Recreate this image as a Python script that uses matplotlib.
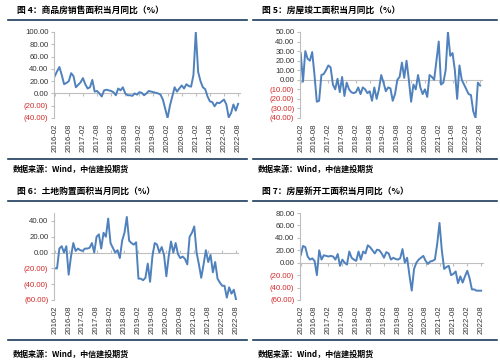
import matplotlib
matplotlib.use("Agg")
import matplotlib.pyplot as plt
import pandas as pd

# months 2016-02 .. 2022-08
months = [p.strftime("%Y-%m") for p in pd.period_range("2016-02", "2022-08", freq="M")]

titles = ["图 4：商品房销售面积当月同比（%）",
          "图 5：房屋竣工面积当月同比（%）",
          "图 6：土地购置面积当月同比（%）",
          "图 7：房屋新开工面积当月同比（%）"]
source = "数据来源：Wind，中信建投期货"

sales = [28, 36, 43, 30, 15, 17, 20, 33, 28, 10, 14, 18, 25, 15, 8, 10,
         22, 3, 4, 0, -5, 5, 6, 5, 4, 2, -3, 8, 5, 10, 0, -3,
         -3, -4, 0, -2, 2, 1, -3, 0, 4, 3, 2, 1, 0, -2, -10, -25,
         -40, -20, -5, 10, 3, 8, 13, 8, 15, 12, 11, 30, 100, 35, 20, 10,
         7, -5, -13, -14, -21, -15, -16, -13, -10, -18, -39, -32, -18, -28, -17]

completed = [28, -2, 30, 22, 20, 29, 5, -23, -22, 5, 6, 10, 15, 13, -5, -10,
             1, -13, 3, -17, -3, -10, -13, -14, -13, -8, -15, -8, -10, -14, -12, -22,
             -8, -20, -10, 5, -3, -12, -8, -9, -22, -15, 0, 3, 18, 2, 20, 0,
             -23, -5, -10, 5, -8, -15, -10, -18, 5, 3, 0, 20, 40, -5, -3, 10,
             50, 25, 28, 10, -20, 15, 0, -5, -10, -15, -16, -33, -40, -3, -6]

land = [-20, -20, 5, 8, 0, 8, -28, -5, 12, 2, 5, 3, 2, 5, 5, 6,
        12, 0, 20, 23, 5, 25, 20, 43, 12, 6, 0, 3, -7, 15, 25, 45,
        15, 12, 10, 13, -33, -33, -35, -32, -14, -37, -5, 12, 10, 0, 7, -3,
        -30, -5, 14, 0, 12, -2, -7, -5, -8, -15, 20, 25, 33, 0, -15, -32,
        -15, 3, -12, -3, -25, -12, -33, -38, -42, -42, -57, -44, -52, -47, -60]

new_starts = [12, 27, 25, 10, 5, 7, 3, -20, 20, 5, 12, 11, 10, 11, 10, 5,
              14, -5, 5, 0, -3, 18, 8, 5, 3, 18, 5, 18, 15, 28, 25, 20,
              15, 21, 20, 15, 8, 17, 15, 5, 8, 6, 5, 7, 22, 0, 8, -20,
              -45, -10, 0, 5, 8, 11, 3, -2, 2, 3, 5, 30, 64, 20, -10, -7,
              -5, -20, -18, -14, -33, -22, -32, -22, -13, -25, -43, -43, -45, -45, -45]

series = [sales, completed, land, new_starts]
ylims = [(-40, 100), (-40, 50), (-60, 50), (-60, 80)]
ysteps = [20, 10, 20, 20]

W, H = 500, 362
fig = plt.figure(figsize=(W / 100, H / 100), dpi=100)
fig.patch.set_facecolor("white")

CJK = ["Noto Sans CJK SC", "DejaVu Sans"]
NAVY = "#1d3c5e"
LINE = "#4f81bd"
GRAY = "#bfbfbf"
RED = "#d42a2a"

# panel boxes in pixels: (axes x0, x1, y_top, y_bottom, block left, block right, block top)
boxes = [(54, 240, 32, 118, 8, 247, 0),
         (300, 482, 32, 118, 253, 497, 0),
         (54, 238, 213, 300, 8, 247, 181),
         (300, 483, 213, 300, 253, 497, 181)]


def fmt(v):
    if v < 0:
        return "({:.2f})".format(-v)
    return "{:.2f}".format(v)


for i, (x0, x1, yt, yb, bl, br, bt) in enumerate(boxes):
    ax = fig.add_axes([x0 / W, 1 - yb / H, (x1 - x0) / W, (yb - yt) / H])
    ax.plot(range(len(months)), series[i], color=LINE, lw=1.4)
    lo, hi = ylims[i]
    ax.set_ylim(lo, hi)
    ax.set_xlim(-0.3, len(months) - 0.2)

    yt_vals = list(range(lo, hi + 1, ysteps[i]))
    if i == 2:
        yt_vals = list(range(-60, 41, 20))
    ax.set_yticks(yt_vals)
    labels = ax.set_yticklabels([fmt(v) for v in yt_vals], fontsize=5.6,
                                family="Liberation Sans")
    for v, lab in zip(yt_vals, labels):
        lab.set_color(RED if v < 0 else "#333333")

    ticks = list(range(0, len(months), 6))
    ax.set_xticks(ticks)
    ax.set_xticklabels([months[t] for t in ticks], rotation=90, fontsize=5.6,
                       family="Liberation Sans", color="#333333")
    ax.tick_params(axis="x", length=0, pad=4)
    ax.tick_params(axis="y", length=2, color=GRAY, pad=2)

    for s in ["top", "right", "bottom"]:
        ax.spines[s].set_visible(False)
    ax.spines["left"].set_color(GRAY)
    ax.spines["left"].set_linewidth(0.8)

    # zero line with small ticks (category axis crossing at 0)
    zero = ax.secondary_xaxis((0 - lo) / (hi - lo))
    zero.set_xticks(ticks)
    zero.set_xticklabels([])
    zero.tick_params(labelbottom=False, labeltop=False, length=2, color=GRAY,
                     direction="out")
    for s in zero.spines.values():
        s.set_color(GRAY)
        s.set_linewidth(0.8)
    ax.set_facecolor("none")

    # title, rules and source
    fig.text((bl + 9) / W, 1 - (bt + 10) / H, titles[i], family=CJK,
             fontsize=6.3, weight="bold", va="center", ha="left")
    fig.add_artist(plt.Line2D([bl / W, br / W], [1 - (bt + 20) / H] * 2,
                              color=NAVY, lw=1.2))
    yb_rule = bt + 159
    fig.add_artist(plt.Line2D([bl / W, br / W], [1 - yb_rule / H] * 2,
                              color=NAVY, lw=1.2))
    fig.text((bl + 5) / W, 1 - (bt + 169 + (4 if i >= 2 else 0)) / H, source,
             family=CJK, fontsize=5.8, weight="bold", va="center", ha="left")

fig.savefig("out.png", dpi=100)
